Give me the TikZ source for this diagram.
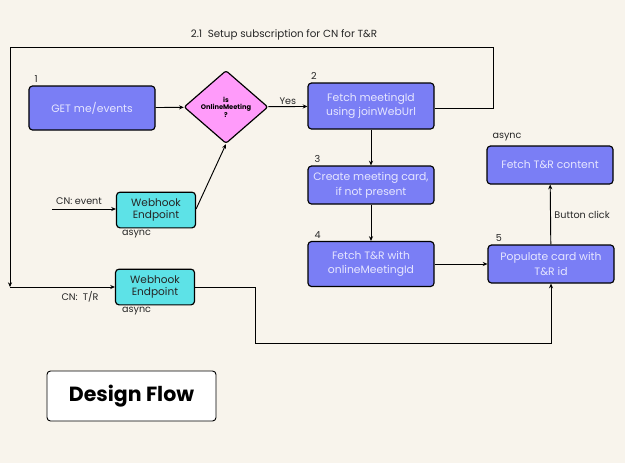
\documentclass[tikz,border=0pt]{standalone}
\usepackage{fontspec}
\setmainfont{Poppins}
\usetikzlibrary{positioning,arrows.meta,shapes.geometric}

\definecolor{bgcream}{HTML}{F8F4EC}
\definecolor{boxblue}{HTML}{7A7EF5}
\definecolor{hookcyan}{HTML}{5DE2E7}
\definecolor{decpink}{HTML}{FF9BFA}
\definecolor{boxtext}{HTML}{E6E6FF}

\tikzset{
  stepbox/.style={draw, line width=1pt, rounded corners=3pt, fill=boxblue,
    text=boxtext, align=center, inner sep=1pt, minimum width=3.78cm,
    font=\fontsize{9.2}{12.5}\selectfont},
  hookbox/.style={draw, line width=1pt, rounded corners=3pt, fill=hookcyan,
    text=black!85, align=center, inner sep=1pt, minimum width=2.37cm,
    minimum height=1.07cm, font=\fontsize{9}{11}\selectfont},
  flow/.style={-{Stealth[length=4pt,width=3.5pt]}, line width=0.8pt},
  wire/.style={line width=0.8pt},
  note/.style={font=\fontsize{8.2}{9}\selectfont, text=black!85, inner sep=1pt},
}

\begin{document}
\begin{tikzpicture}[x=0.03cm, y=-0.03cm]

    % background and page size
    \fill[bgcream] (0,0) rectangle (625,463);
    \useasboundingbox (0,0) rectangle (625,463);

    % main steps
    \node[stepbox, minimum height=1.32cm] (get) at (92,108) {GET me/events};
    \node[draw, line width=1pt, diamond, rounded corners=2pt, fill=decpink,
      minimum width=2.52cm, minimum height=2.19cm, inner sep=0pt, align=center,
      font=\bfseries\fontsize{5.7}{6.5}\selectfont] (dec) at (226,107) {is\\OnlineMeeting\\?};
    \node[stepbox, minimum height=1.38cm] (fetchid) at (371,106) {Fetch meetingId\\using joinWebUrl};
    \node[stepbox, minimum height=1.14cm] (card) at (371,185) {Create meeting card,\\if not present};
    \node[stepbox, minimum height=1.35cm] (fetchtr) at (371,264) {Fetch T\&R with\\onlineMeetingId};
    \node[stepbox, minimum height=1.14cm] (populate) at (551,264) {Populate card with\\T\&R id};
    \node[stepbox, minimum height=1.14cm] (content) at (550,165) {Fetch T\&R content};

    % webhooks
    \node[hookbox] (hookev) at (156,210) {Webhook\\Endpoint};
    \node[hookbox] (hooktr) at (155,287) {Webhook\\Endpoint};

    % step numbers
    \node[note, above right=1pt and 4pt of get.north west] (n1) {1};
    \node[note, above right=1pt and 2pt of fetchid.north west] (n2) {2};
    \node[note, above right=1pt and 5pt of card.north west] (n3) {3};
    \node[note, above right=1pt and 5pt of fetchtr.north west] (n4) {4};
    \node[note, above right=1pt and 6pt of populate.north west] (n5) {5};

    % small labels
    \node[note, below right=0pt and 4pt of hookev.south west] (asyncev) {async};
    \node[note, below right=0pt and 5pt of hooktr.south west] (asynctr) {async};
    \node[note, above right=3pt and 4pt of content.north west] (asyncct) {async};
    \node[note, font=\fontsize{8.8}{10}\selectfont] (title) at (284,35) {2.1\ \ Setup subscription for CN for T\&R};
    \node[note] (cnev) at (79,201) {CN: event};
    \node[note] (cntr) at (80,297) {CN:\ \ T/R};

    \coordinate (evin) at (52,209);

    % connectors
    \draw[flow] (get) -- (dec);
    \draw[flow] (dec) -- node[note, above] (yes) {Yes} (fetchid);
    \draw[flow] (fetchid) -- (card);
    \draw[flow] (card) -- (fetchtr);
    \draw[flow] (fetchtr) -- (populate);
    \draw[flow] (populate) -- node[note, right=2pt] (click) {Button click} (content);
    \draw[flow] (evin) -- (hookev.west |- evin);
    \draw[flow] (hookev.east |- evin) -- (dec.south);

    % subscription loop
    \coordinate (loopa) at (493,108);
    \coordinate (loopb) at (493,47);
    \coordinate (loopc) at (10,47);
    \coordinate (loopd) at (10,287);
    \draw[wire] (fetchid.east |- loopa) -- (loopa) -- (loopb) -- (loopc);
    \draw[flow] (loopc) -- (loopd);
    \draw[flow] (loopd) -- (hooktr.west);

    % T/R path
    \draw[flow] (hooktr.east) -- (255,287) -- (255,343) -- (populate.south |- 0,343) -- (populate.south);

    % title box
    \node[draw, line width=0.8pt, rounded corners=3pt, fill=white,
      minimum width=5.07cm, minimum height=1.5cm,
      font=\bfseries\fontsize{17.5}{20}\selectfont] (design) at (131.5,396) {Design Flow};

\end{tikzpicture}
\end{document}
